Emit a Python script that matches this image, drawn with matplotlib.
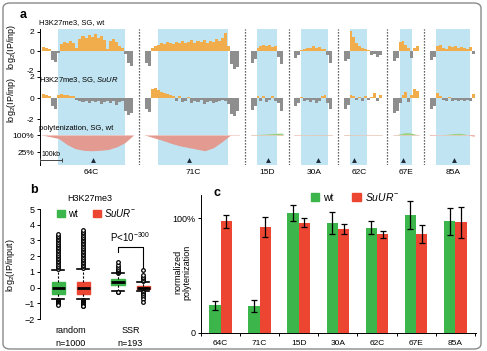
import numpy as np
import matplotlib
matplotlib.use('Agg')
import matplotlib.pyplot as plt
from matplotlib.patches import FancyBboxPatch, Patch

plt.rcParams['font.family'] = ['Liberation Sans', 'DejaVu Sans']
plt.rcParams['mathtext.fontset'] = 'custom'
plt.rcParams['mathtext.rm'] = 'Liberation Sans'
plt.rcParams['mathtext.it'] = 'Liberation Sans:italic'
plt.rcParams['mathtext.bf'] = 'Liberation Sans:bold'

W, H = 487, 351

# ---------------- panel a data ----------------
regions = ['64C', '71C', '15D', '30A', '62C', '67E', '85A']
region_len = [410, 425, 145, 170, 170, 115, 200]          # window, kb
highlight = [(70, 375), (60, 375), (30, 118), (30, 150), (30, 105), (30, 85), (25, 180)]
arrow_pos = [230, 200, 80, 105, 45, 45, 105]
gap = 52

wt_signal = [
    [0.4, 0.3, 0.2, -0.9, -1.1, -0.2, 0.7, 0.9, 0.8, 1.0, 0.8, 0.3, 1.2, 1.5, 1.3, 1.6, 1.4, 1.7, 1.3, 1.5, 1.1, 0.2, 1.0, 1.2, 0.9, 0.5, 0.3, -0.3, -1.2, -1.5],
    [-1.2, -1.5, 0.3, 0.5, 0.6, 0.8, 0.7, 0.9, 0.8, 0.7, 0.9, 0.8, 1.0, 0.8, 0.9, 1.1, 0.8, 1.0, 0.9, 1.1, 0.8, 1.0, 0.9, 1.2, 1.0, 1.3, 1.8, 0.5, -1.3, -1.8, -1.6],
    [-1.2, -0.8, 0.3, 0.5, 0.6, 0.5, 0.6, 0.4, 0.5, -0.6, -1.3],
    [-0.7, -0.4, 0.1, 0.2, 0.3, 0.3, 0.5, 0.3, 0.4, 0.2, 0.2, -0.4, -1.2],
    [-1.0, -0.8, 2.1, 1.4, 0.8, 0.5, 0.3, 0.2, 0.1, -0.4, -0.3, -0.6, -0.4],
    [-1.0, -0.7, 0.9, 1.0, 0.6, 0.3, -0.7, 0.3, 0.5],
    [-0.9, -0.6, 0.5, 0.6, 0.3, 0.2, 0.5, 0.4, 0.5, 0.3, 0.4, 0.3, 0.2, 0.4, -0.3],
]
suur_signal = [
    [0.4, 0.3, 0.2, -0.8, -1.0, 0.3, 0.4, 0.3, 0.3, 0.2, 0.2, -0.2, -0.3, -0.4, -0.3, -0.5, -0.3, -0.4, -0.3, -0.6, -0.4, -0.3, -0.5, -0.3, -0.7, -0.4, -0.3, -1.2, -1.6, -1.4],
    [-1.0, -1.3, 0.9, 1.0, 0.8, 0.6, 0.5, 0.4, 0.3, 0.2, -0.3, 0.2, -0.4, -0.3, 0.1, -0.5, -0.3, -0.4, -0.2, -0.6, -0.4, -0.3, -0.5, -0.4, -0.3, -0.2, -0.3, -0.6, -1.5, -1.7, -1.2],
    [-1.1, -0.8, 0.2, -0.3, 0.2, -0.4, -0.2, 0.2, -0.3, -0.5, -1.2],
    [-0.8, -0.5, 0.1, -0.3, -0.2, -0.4, -0.2, -0.5, -0.3, 0.2, 0.3, -0.5, -1.0],
    [-1.0, -0.7, 0.3, 0.2, -0.2, 0.1, -0.3, 0.2, -0.2, 0.1, 0.5, -0.3, 0.3],
    [-1.4, -1.2, -0.5, 0.3, 0.6, -0.4, 0.3, 0.9, 0.7],
    [-1.0, -0.8, 0.5, 0.2, -0.2, -0.3, 0.1, -0.3, -0.2, -0.3, -0.2, -0.3, -0.2, -0.3, 0.4],
]
poly_signal = [
    [0, -0.2, -0.4, -1.1, -1.6, -1.8, -1.85, -1.8, -1.7, -1.4, -0.9, -0.05],
    [0, -0.3, -0.6, -0.95, -1.25, -1.45, -1.65, -1.85, -1.5, -0.8, 0, 0],
    [0.03, 0.06, 0.08, 0.1, 0.14, 0.18, 0.22, 0.2],
    [0.02, 0.03, 0.04, 0.04, 0.05, 0.05, 0.04, 0.03],
    [0.06, 0.05, 0.04, 0.03, 0.02, 0.03, 0.04, 0.02],
    [0.0, 0.05, 0.15, 0.25, 0.28, 0.22, 0.1, 0.03],
    [-0.12, -0.05, 0.0, 0.05, 0.12, 0.18, 0.2, 0.12, -0.1, -0.2],
]

# ---------------- panel b data ----------------
groups = ['random', 'SSR']
group_n = ['n=1000', 'n=193']
box_med = [0.0, 0.0, 0.35, 0.0]
box_q1 = [-0.38, -0.4, 0.15, -0.1]
box_q3 = [0.33, 0.35, 0.55, 0.1]
box_lo = [-0.75, -0.75, -0.2, -0.2]
box_hi = [1.15, 1.2, 0.9, 0.35]
box_fliers = [
    [1.2, 1.3, 1.4, 1.5, 1.6, 1.7, 1.8, 1.9, 2.0, 2.1, 2.2, 2.3, 2.4, 2.5, 2.6, 2.7, 2.8, 2.9, 3.0, 3.1, 3.2, 3.3, 3.4,
     -0.8, -0.85, -0.9, -0.95, -1.0, -1.05, -1.1],
    [1.25, 1.35, 1.45, 1.55, 1.65, 1.75, 1.85, 1.95, 2.05, 2.15, 2.25, 2.35, 2.45, 2.55, 2.65, 2.75, 2.85, 2.95, 3.05,
     3.15, 3.25, 3.35, 3.45, 3.55, 3.65, -0.8, -0.85, -0.9, -0.95, -1.0, -1.05, -1.1, -1.15, -1.2],
    [0.95, 1.0, 1.05, 1.1, 1.15, 1.2, 1.3, 1.45, 1.6, -0.25, -0.3],
    [0.45, 0.5, 0.6, 0.7, 0.8, 1.15, -0.25, -0.3, -0.4, -0.5, -0.6, -0.7, -0.9],
]

# ---------------- panel c data ----------------
c_cats = ['64C', '71C', '15D', '30A', '62C', '67E', '85A']
c_wt = [0.24, 0.235, 1.04, 0.955, 0.915, 1.025, 0.97]
c_wt_err = [0.04, 0.05, 0.07, 0.095, 0.057, 0.12, 0.12]
c_suur = [0.97, 0.92, 0.96, 0.905, 0.86, 0.86, 0.965]
c_suur_err = [0.055, 0.085, 0.04, 0.045, 0.03, 0.08, 0.135]

green = '#3cb54a'
red = '#ec4632'
blue = '#c0e4f1'
orange = '#f1ad4c'
grey = '#8e8e8e'
pink = '#e39a90'
lightgreen = '#97d37f'


def rect(x0, y0, x1, y1):
    return [x0 / W, 1 - y1 / H, (x1 - x0) / W, (y1 - y0) / H]


def fx(x):
    return x / W


def fy(y):
    return 1 - y / H


fig = plt.figure(figsize=(W / 100, H / 100), dpi=100)

# frame around figure
fig.patches.append(FancyBboxPatch((fx(3), fy(349)), fx(478), 346 / H,
                                  boxstyle='round,pad=0,rounding_size=0.015',
                                  transform=fig.transFigure, fill=False,
                                  ec='#8a8a8a', lw=1.0))

# ---------------- panel a ----------------
offsets = np.concatenate([[0], np.cumsum(np.array(region_len) + gap)[:-1]])
total = sum(region_len) + gap * (len(region_len) - 1)
kb_px = 1 / 4.5
xr = 40 + (total + 9) * kb_px

bg = fig.add_axes(rect(40, 29, xr, 165))
bg.set_xlim(-9, total)
bg.set_ylim(0, 1)
for s in ['top', 'right', 'bottom']:
    bg.spines[s].set_visible(False)
bg.spines['left'].set_linewidth(0.7)
bg.set_xticks([])
bg.set_yticks([])
for i, name in enumerate(regions):
    off = offsets[i]
    h0, h1 = highlight[i]
    bg.axvspan(off + h0, off + h1, color=blue, lw=0)
    bg.plot(off + arrow_pos[i], 0.035, marker='^', ms=3.5, color='#1b2838', mec='none')
    bg.text(off + (h0 + h1) / 2, -0.052, name, transform=bg.get_xaxis_transform(),
            ha='center', va='center', fontsize=6)
    if i < len(regions) - 1:
        bg.axvline(off + region_len[i] + gap / 2, color='#333333', lw=0.9, ls=(0, (1, 1.4)))

tracks = [
    (rect(40, 29, xr, 75), (-2.46, 2.26), wt_signal),
    (rect(40, 75, xr, 125), (-2.57, 2.19), suur_signal),
]
for pos, lim, sig in tracks:
    ax = fig.add_axes(pos)
    ax.set_facecolor('none')
    ax.set_xlim(-9, total)
    ax.set_ylim(*lim)
    for s in ax.spines.values():
        s.set_visible(False)
    ax.set_xticks([])
    ax.set_yticks([-2, 0, 2])
    ax.set_yticklabels(['-2', '0', '2'])
    ax.tick_params(axis='y', labelsize=6, length=2.5, width=0.7, pad=1.5)
    for i in range(len(regions)):
        vals = np.array(sig[i])
        w = region_len[i] / len(vals)
        left = offsets[i] + np.arange(len(vals)) * w
        cols = [orange if v > 0 else grey for v in vals]
        ax.bar(left, vals, width=w, align='edge', color=cols, lw=0)

axp = fig.add_axes(rect(40, 125, xr, 165))
axp.set_facecolor('none')
axp.set_xlim(-9, total)
axp.set_ylim(-3.53, 1.18)
for s in axp.spines.values():
    s.set_visible(False)
axp.set_xticks([])
axp.set_yticks([0, -2])
axp.set_yticklabels(['100%', '25%'])
axp.tick_params(axis='y', labelsize=6, length=2.5, width=0.7, pad=1.5)
for i in range(len(regions)):
    vals = np.array(poly_signal[i])
    x = np.linspace(offsets[i], offsets[i] + region_len[i], len(vals))
    axp.fill_between(x, 0, vals, where=vals <= 0, interpolate=True, color=pink, lw=0)
    axp.fill_between(x, 0, vals, where=vals >= 0, interpolate=True, color=lightgreen, lw=0)
    axp.plot(x, np.zeros_like(x), color='#f2c6c0', lw=0.5)
# scale bar
axp.plot([-9, 91], [-2.94, -2.94], color='#444444', lw=0.7, marker='|', ms=3, mew=0.7)
axp.text(41, -2.3, '100kb', ha='center', va='center', fontsize=5)

fig.text(fx(39), fy(23), 'H3K27me3, SG, wt', fontsize=5.5, va='center')
fig.text(fx(39), fy(80), r'H3K27me3, SG, $\mathit{SuUR}$', fontsize=5.5, va='center')
fig.text(fx(39), fy(128), 'polytenization, SG, wt', fontsize=5.5, va='center')
fig.text(fx(12), fy(47), r'log$_2$(IP/inp)', rotation=90, ha='center', va='center', fontsize=6.5)
fig.text(fx(12), fy(100), r'log$_2$(IP/inp)', rotation=90, ha='center', va='center', fontsize=6.5)
fig.text(fx(20), fy(15), 'a', fontweight='bold', fontsize=9, va='center')

# ---------------- panel b ----------------
axb = fig.add_axes(rect(40, 204, 160, 322))
positions = [1, 2, 3.4, 4.4]
stats = []
for k in range(4):
    stats.append(dict(med=box_med[k], q1=box_q1[k], q3=box_q3[k],
                      whislo=box_lo[k], whishi=box_hi[k], fliers=box_fliers[k]))
bp = axb.bxp(stats, positions=positions, widths=0.52, capwidths=0.45,
             patch_artist=True, manage_ticks=False,
             medianprops=dict(color='black', lw=2),
             whiskerprops=dict(color='black', lw=0.8, ls=(0, (2, 1.5))),
             capprops=dict(color='black', lw=1.2),
             flierprops=dict(marker='o', ms=2.6, mfc='white', mec='black', mew=0.9))
for k, b in enumerate(bp['boxes']):
    c = green if k % 2 == 0 else red
    b.set_facecolor(c)
    b.set_edgecolor(c)
axb.set_xlim(0.28, 5.08)
axb.set_ylim(-2.19, 5.32)
axb.set_yticks(range(-2, 6))
axb.tick_params(axis='y', labelsize=6.5, length=2.5, width=0.7, pad=1.5)
axb.set_xticks([])
for s in ['top', 'right', 'bottom']:
    axb.spines[s].set_visible(False)
axb.spines['left'].set_bounds(-2, 5)
axb.spines['left'].set_linewidth(0.7)
axb.set_ylabel(r'log$_2$(IP/input)', fontsize=6.5)
axb.yaxis.set_label_coords(-0.19, 0.48)
for g, name in enumerate(groups):
    xc = (positions[2 * g] + positions[2 * g + 1]) / 2
    axb.text(xc, -0.076, name, transform=axb.get_xaxis_transform(), ha='center', va='center', fontsize=6.5)
    axb.text(xc, -0.178, group_n[g], transform=axb.get_xaxis_transform(), ha='center', va='center', fontsize=6.5)
axb.plot([3.4, 3.4, 4.4, 4.4], [2.25, 2.6, 2.6, 1.25], color='black', lw=0.8)
axb.text(3.9, 3.2, r'P<10$^{-300}$', ha='center', va='center', fontsize=7)
axb.legend(handles=[Patch(color=green), Patch(color=red)],
           labels=['wt', r'$\mathit{SuUR}^{-}$'], ncol=2, frameon=False,
           loc='center', bbox_to_anchor=(fx(97), fy(213)), bbox_transform=fig.transFigure,
           fontsize=7, handlelength=0.8, handleheight=0.8, handletextpad=0.3,
           columnspacing=1.6, borderpad=0)
fig.text(fx(90), fy(199), 'H3K27me3', ha='center', va='center', fontsize=6.5)
fig.text(fx(30), fy(190), 'b', fontweight='bold', fontsize=9, va='center')

# ---------------- panel c ----------------
axc = fig.add_axes(rect(201, 195, 476, 333))
xi = np.arange(len(c_cats))
bw = 0.29
axc.bar(xi - bw / 2, c_wt, bw, yerr=c_wt_err, color=green, capsize=2,
        error_kw=dict(lw=0.9, capthick=0.9, ecolor='black'))
axc.bar(xi + bw / 2, c_suur, bw, yerr=c_suur_err, color=red, capsize=2,
        error_kw=dict(lw=0.9, capthick=0.9, ecolor='black'))
axc.set_xlim(-0.46, 6.53)
axc.set_ylim(0, 1.2)
axc.set_yticks([0, 1])
axc.set_yticklabels(['0', '100%'])
axc.set_xticks(xi)
axc.set_xticklabels(c_cats)
axc.set_xticks(np.arange(len(c_cats) + 1) - 0.5, minor=True)
axc.tick_params(axis='x', which='major', length=0, labelsize=6, pad=5)
axc.tick_params(axis='x', which='minor', length=2.5, width=0.7)
axc.tick_params(axis='y', labelsize=6.5, length=2.5, width=0.7, pad=1.5)
for s in ['top', 'right']:
    axc.spines[s].set_visible(False)
axc.spines['left'].set_linewidth(0.7)
axc.spines['bottom'].set_linewidth(0.7)
axc.set_ylabel('normalized\npolytenization', fontsize=6.5, linespacing=1.0)
axc.yaxis.set_label_coords(-0.035, 0.44)
axc.legend(handles=[Patch(color=green), Patch(color=red)],
           labels=['wt', r'$\mathit{SuUR}^{-}$'], ncol=2, frameon=False,
           loc='center', bbox_to_anchor=(fx(355), fy(197)), bbox_transform=fig.transFigure,
           fontsize=7.5, handlelength=0.8, handleheight=0.8, handletextpad=0.4,
           columnspacing=1.8, borderpad=0)
fig.text(fx(213), fy(193), 'c', fontweight='bold', fontsize=9, va='center')

fig.savefig('out.png', dpi=100)
